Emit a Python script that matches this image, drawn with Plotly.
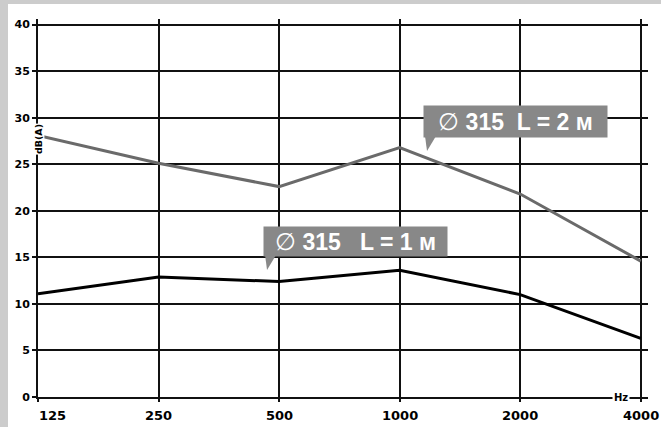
import plotly.graph_objects as go

# octave-band centre frequencies (Hz) and measured levels, dB(A)
freqs = ["125", "250", "500", "1000", "2000", "4000"]
level_2m = [28.1, 25.1, 22.6, 26.8, 21.8, 14.6]
level_1m = [11.1, 12.9, 12.4, 13.6, 11.0, 6.3]
y_ticks = [0, 5, 10, 15, 20, 25, 30, 35, 40]

PHI = "<span style='font-size:24px'>∅</span>\u00a0"
label_2m = PHI + "<b>315\u00a0\u00a0L = 2 м</b>"
label_1m = PHI + "<b>315\u00a0\u00a0\u00a0L = 1 м</b>"

BOX = "#888888"
GRID = "#111111"
tick_font = dict(family="DejaVu Sans", size=11, color="#000", weight="bold")

fig = go.Figure()
fig.add_trace(go.Scatter(x=freqs, y=level_2m, mode="lines", line=dict(color="#6a6a6a", width=3),
                         showlegend=False, hoverinfo="skip"))
fig.add_trace(go.Scatter(x=freqs, y=level_1m, mode="lines", line=dict(color="#000", width=3),
                         showlegend=False, hoverinfo="skip"))

annotations = []
# x tick labels drawn as annotations so "125" can sit flush with the axis
for i, f in enumerate(freqs):
    annotations.append(dict(x=i, y=0, xref="x", yref="paper", text=f, showarrow=False,
                            xanchor="left" if i == 0 else "center", yanchor="middle",
                            xshift=-1 if i == 0 else 0, yshift=-18,
                            font=dict(family="DejaVu Sans", size=13, color="#000", weight="bold")))

annotations.append(dict(x=4.836, y=0, xref="x", yref="y", text="Hz", showarrow=False,
                        bgcolor="white", borderpad=1,
                        font=dict(family="DejaVu Sans", size=10, color="#000", weight="bold")))
annotations.append(dict(x=0, y=27.7, xref="x", yref="y", text="dB(A)", textangle=-90,
                        showarrow=False, bgcolor="white", borderpad=0,
                        font=dict(family="DejaVu Sans", size=9.5, color="#000", weight="bold")))

# callout boxes: (centre x index, centre y, width, height, text)
callouts = [(3.961, 29.59, 183, 31, label_2m), (2.634, 16.70, 183, 29, label_1m)]
shapes = []
for cx, cy, w, h, txt in callouts:
    annotations.append(dict(x=cx, y=cy, xref="x", yref="y", text=txt, showarrow=False,
                            width=w, height=h, bgcolor=BOX, borderpad=0, align="center",
                            font=dict(family="Liberation Sans", size=23, color="white")))
    # little pointer hanging from the bottom-left corner
    hw, hh = w / 2, h / 2
    shapes.append(dict(type="path", xref="x", yref="y", xsizemode="pixel", ysizemode="pixel",
                       xanchor=cx, yanchor=cy,
                       path=f"M{-hw + 1},{-hh + 1} L{-hw + 12},{-hh + 1} L{-hw + 3},{-hh - 14} Z",
                       fillcolor=BOX, line=dict(width=0), layer="above"))

# grey frame strips on the left and top
shapes.append(dict(type="rect", xref="paper", yref="paper", x0=-0.07, x1=-0.0492, y0=-0.2, y1=1.2,
                   fillcolor="#cccccc", line=dict(width=0), layer="below"))
shapes.append(dict(type="rect", xref="paper", yref="paper", x0=-0.07, x1=1.1, y0=1.0397, y1=1.2,
                   fillcolor="#cccccc", line=dict(width=0), layer="below"))

fig.update_layout(
    width=661, height=427, autosize=False,
    margin=dict(l=38, r=13, t=19, b=30),
    paper_bgcolor="white", plot_bgcolor="white",
    annotations=annotations, shapes=shapes,
    xaxis=dict(type="category", range=[0, 5.06], showgrid=True, gridcolor=GRID, gridwidth=1.6,
               showline=True, linecolor=GRID, linewidth=2, ticks="outside", ticklen=3,
               tickcolor=GRID, tickwidth=1.5, showticklabels=False, zeroline=False, fixedrange=True),
    yaxis=dict(range=[0, 40.6], tickvals=y_ticks, showgrid=True, gridcolor=GRID, gridwidth=1.6,
               showline=True, linecolor=GRID, linewidth=2, ticks="outside", ticklen=4,
               tickcolor=GRID, tickwidth=1.5, tickfont=tick_font, zeroline=False, fixedrange=True),
)

# drop the browser's default 8px body margin so the figure sits at the window origin
fig.write_html("out.html", config={"displayModeBar": False},
               post_script="document.body.style.margin='0';")
